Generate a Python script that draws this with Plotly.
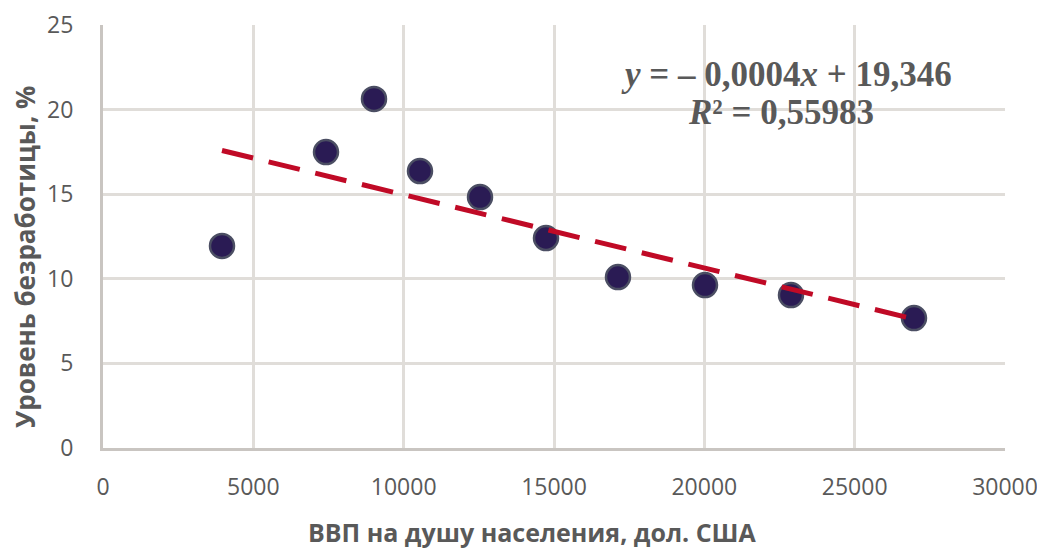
import numpy as np
import plotly.graph_objects as go

gdp = [3958, 7417, 9013, 10543, 12539, 14734, 17128, 20022, 22882, 26973]
unemp = [11.94, 17.49, 20.63, 16.37, 14.83, 12.41, 10.10, 9.63, 9.04, 7.68]
x_ticks = [0, 5000, 10000, 15000, 20000, 25000, 30000]
y_ticks = [0, 5, 10, 15, 20, 25]
eq_line1 = "<i>y</i> = – 0,0004<i>x</i> + 19,346"
eq_line2 = "<i>R</i>² = 0,55983"
x_title = "ВВП на душу населения, дол. США"
y_title = "Уровень безработицы, %"

slope, intercept = np.polyfit(gdp, unemp, 1)
tx = [min(gdp), max(gdp)]
ty = [slope * v + intercept for v in tx]

fig = go.Figure()
fig.add_trace(go.Scatter(
    x=gdp, y=unemp, mode="markers",
    marker=dict(size=24, color="#2a1b54", line=dict(color="#4b4e63", width=2.5)),
    showlegend=False, hoverinfo="x+y"))
fig.add_trace(go.Scatter(
    x=tx, y=ty, mode="lines",
    line=dict(color="#c00a26", width=5, dash="32px,16px"),
    showlegend=False, hoverinfo="skip"))

grid = "#e0ddd9"
axis_line = "#c9c5c1"
tick_font = dict(family="Open Sans, sans-serif", size=23, color="#595959")
eq_font = dict(family="Liberation Serif, serif", size=35, color="#595959", weight="bold")

# page body has an 8px margin; the figure is sized/offset to compensate
PL, PT = 103 - 8, 25 - 8
fig.update_layout(
    width=1037, height=542,
    margin=dict(l=PL, r=40, t=PT, b=102),
    paper_bgcolor="white", plot_bgcolor="white",
    xaxis=dict(range=[0, 30000], tickvals=x_ticks, ticktext=[str(v) for v in x_ticks],
               showgrid=True, gridcolor=grid, gridwidth=3, zeroline=False,
               showline=True, linecolor=axis_line, linewidth=3,
               ticks="", tickfont=tick_font, ticklabelstandoff=16,
               ticklabeloverflow="allow", automargin=False),
    yaxis=dict(range=[0, 25.0001], tickvals=y_ticks, ticktext=[str(v) for v in y_ticks],
               showgrid=True, gridcolor=grid, gridwidth=3, zeroline=False,
               showline=True, linecolor=axis_line, linewidth=3,
               ticks="", tickfont=tick_font, ticklabelstandoff=22,
               ticklabeloverflow="allow", automargin=False),
    annotations=[
        dict(text=eq_line1, xref="paper", yref="paper", x=(786 - 103) / 902, y=(448 - 75) / 423,
             xanchor="center", yanchor="middle", showarrow=False, font=eq_font),
        dict(text=eq_line2, xref="paper", yref="paper", x=(781 - 103) / 902, y=(448 - 113) / 423,
             xanchor="center", yanchor="middle", showarrow=False, font=eq_font),
        dict(text=x_title, xref="paper", yref="paper", x=(532 - 103) / 902, y=(448 - 532) / 423,
             xanchor="center", yanchor="middle", showarrow=False,
             font=dict(family="Open Sans, sans-serif", size=25, color="#595959", weight="bold")),
        dict(text=y_title, xref="paper", yref="paper", x=(25 - 103) / 902, y=(448 - 257) / 423,
             xanchor="center", yanchor="middle", showarrow=False, textangle=-90,
             font=dict(family="Open Sans, sans-serif", size=26, color="#595959", weight="bold")),
    ],
)

fig.write_html("out.html")
